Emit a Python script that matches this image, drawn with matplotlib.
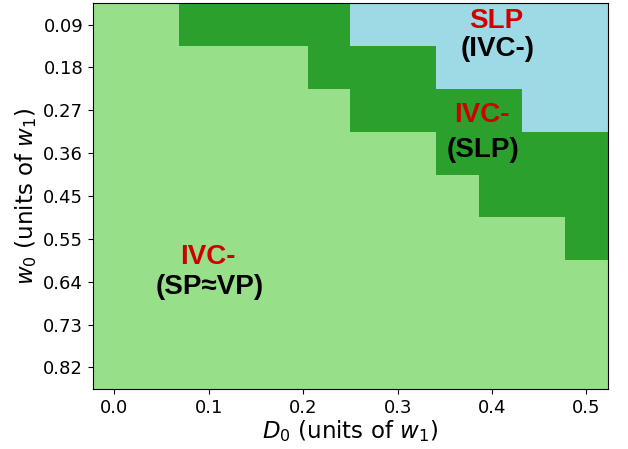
import numpy as np
import matplotlib
matplotlib.use("Agg")
import matplotlib.pyplot as plt
from matplotlib.colors import ListedColormap

# D0 values (columns) and w0 values (rows), in units of w1
d0_values = np.linspace(0.0, 0.5, 12)
w0_values = np.arange(1, 10) / 11

# phase per (w0 row, D0 column):
# 0 = IVC- (SP~VP), 1 = IVC- (SLP), 2 = SLP (IVC-)
phase = [
    [0, 0, 1, 1, 1, 1, 2, 2, 2, 2, 2, 2],
    [0, 0, 0, 0, 0, 1, 1, 1, 2, 2, 2, 2],
    [0, 0, 0, 0, 0, 0, 1, 1, 1, 1, 2, 2],
    [0, 0, 0, 0, 0, 0, 0, 0, 1, 1, 1, 1],
    [0, 0, 0, 0, 0, 0, 0, 0, 0, 1, 1, 1],
    [0, 0, 0, 0, 0, 0, 0, 0, 0, 0, 0, 1],
    [0, 0, 0, 0, 0, 0, 0, 0, 0, 0, 0, 0],
    [0, 0, 0, 0, 0, 0, 0, 0, 0, 0, 0, 0],
    [0, 0, 0, 0, 0, 0, 0, 0, 0, 0, 0, 0],
]

phase_colors = ["#98df8a", "#2ca02c", "#9edae5"]

# (x, y, text, colour) labels for each region
labels = [
    (0.405, 0.084, "SLP", "#d00000"),
    (0.406, 0.143, "(IVC-)", "black"),
    (0.389, 0.283, "IVC-", "#d00000"),
    (0.390, 0.358, "(SLP)", "black"),
    (0.099, 0.585, "IVC-", "#d00000"),
    (0.101, 0.648, "(SP≈VP)", "black"),
]

fig = plt.figure(figsize=(6.28, 4.49), dpi=100)
ax = fig.add_axes([0.148, 0.134, 0.820, 0.859])

cmap = ListedColormap(phase_colors)
ax.pcolormesh(d0_values, w0_values, np.array(phase), cmap=cmap,
              vmin=-0.5, vmax=2.5, shading="nearest")
ax.invert_yaxis()

ax.set_xticks([0.0, 0.1, 0.2, 0.3, 0.4, 0.5])
ax.set_xticklabels(["0.0", "0.1", "0.2", "0.3", "0.4", "0.5"])
ax.set_yticks(w0_values)
ax.set_yticklabels([f"{w:.2f}" for w in w0_values])
ax.tick_params(labelsize=13)

ax.set_xlabel("$D_0$ (units of $w_1$)", fontsize=16.5, labelpad=1)
ax.set_ylabel("$w_0$ (units of $w_1$)", fontsize=16.5, labelpad=3)

for x, y, txt, col in labels:
    ax.text(x, y, txt, color=col, fontsize=20, fontweight="bold",
            family=["Liberation Sans", "DejaVu Sans"],
            ha="center", va="center")

fig.savefig("out.png", dpi=100)
